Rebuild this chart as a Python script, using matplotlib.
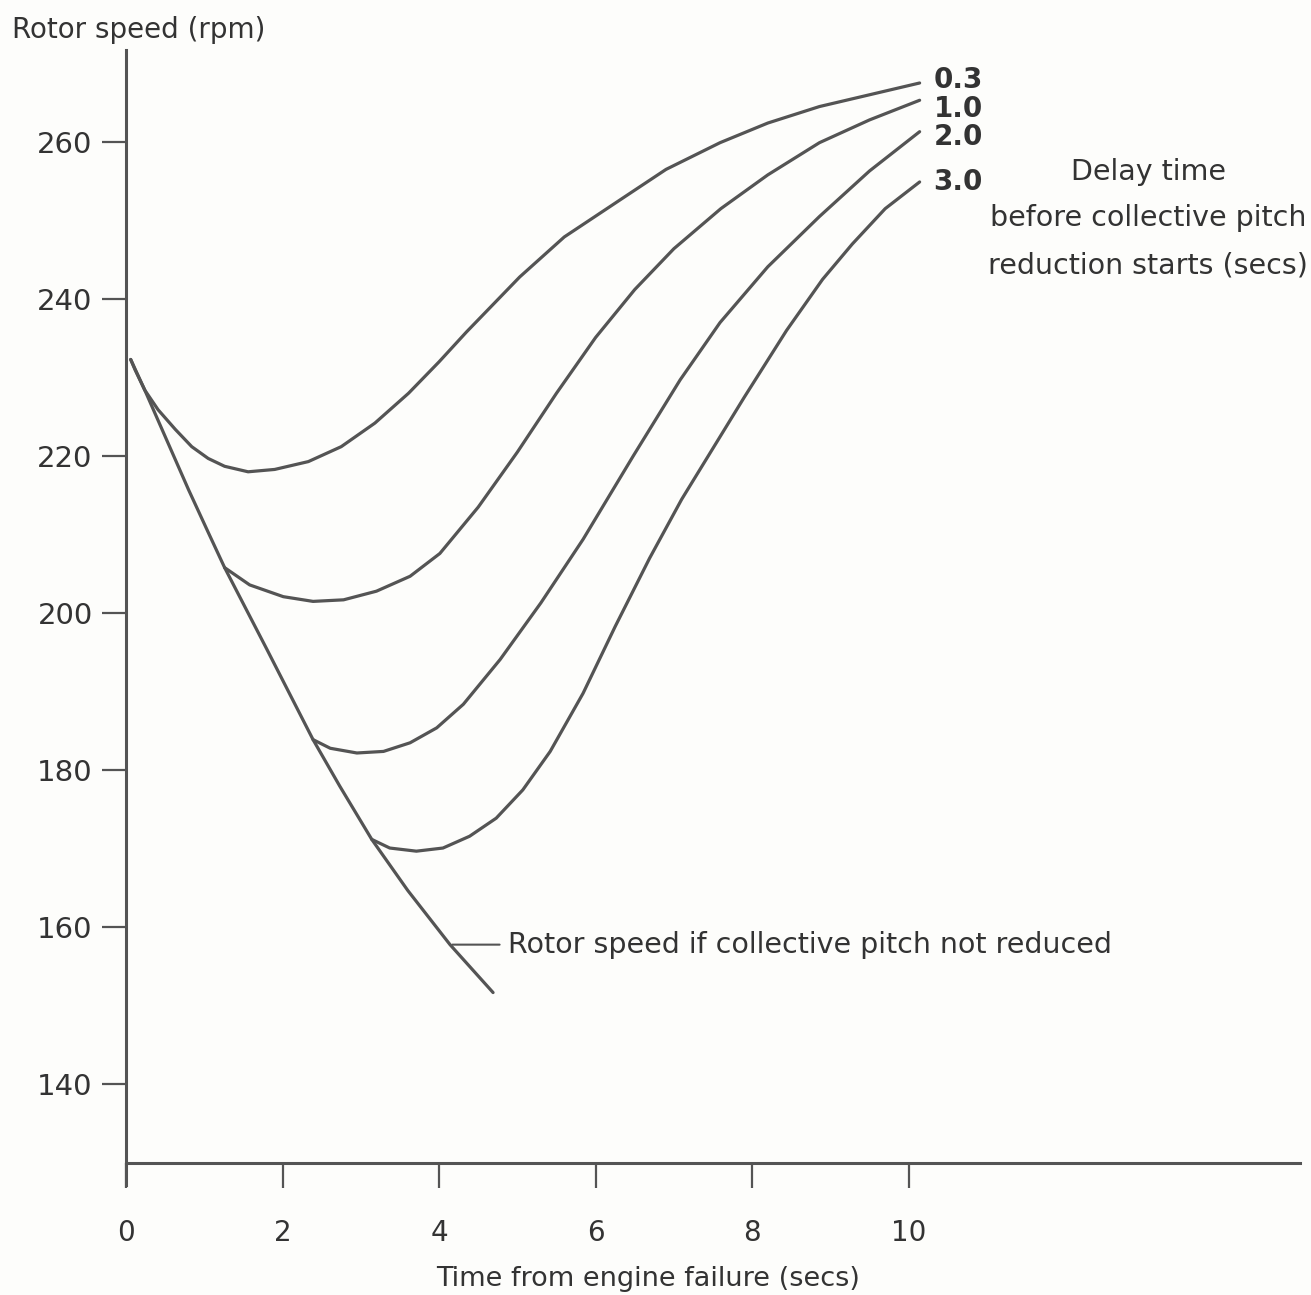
"""
Rotor speed decay after engine failure for different delay times
before collective pitch reduction starts.
"""

import matplotlib
matplotlib.use('Agg')
import matplotlib.pyplot as plt

# curve data (time in secs, rotor speed in rpm)
base_t = [0.06, 0.24, 0.5, 0.8, 1.05, 1.26, 1.8, 2.39, 2.73, 3.14, 3.6, 4.14, 4.69]
base_rpm = [232.3, 228.4, 222.5, 215.7, 210.3, 205.8, 195.4, 183.9, 178.0, 171.2, 164.7, 157.8, 151.7]

d03_t = [0.06, 0.115, 0.24, 0.41, 0.63, 0.84, 1.05, 1.26, 1.56, 1.9, 2.33, 2.75, 3.18,
         3.61, 4.0, 4.35, 5.03, 5.6, 6.31, 6.9, 7.59, 8.2, 8.86, 9.5, 10.14]
d03_rpm = [232.3, 231.0, 228.4, 225.9, 223.4, 221.2, 219.7, 218.7, 218.0, 218.3, 219.3, 221.2, 224.2,
           228.0, 232.0, 235.8, 242.8, 247.9, 252.6, 256.5, 259.9, 262.4, 264.5, 266.0, 267.5]

d10_t = [1.26, 1.58, 2.01, 2.39, 2.78, 3.2, 3.63, 4.01, 4.5, 5.0, 5.5, 6.0,
         6.5, 7.0, 7.6, 8.2, 8.86, 9.5, 10.14]
d10_rpm = [205.8, 203.6, 202.1, 201.5, 201.7, 202.8, 204.7, 207.6, 213.5, 220.5, 228.0, 235.1,
           241.2, 246.4, 251.5, 255.8, 259.9, 262.8, 265.3]

d20_t = [2.39, 2.61, 2.95, 3.29, 3.63, 3.97, 4.31, 4.78, 5.3, 5.84, 6.48, 7.08,
         7.59, 8.2, 8.86, 9.5, 10.14]
d20_rpm = [183.9, 182.8, 182.2, 182.4, 183.5, 185.4, 188.4, 194.1, 201.3, 209.4, 220.0, 229.7,
           237.0, 244.1, 250.5, 256.3, 261.3]

d30_t = [3.14, 3.37, 3.71, 4.05, 4.39, 4.73, 5.07, 5.42, 5.84, 6.25, 6.69, 7.1,
         7.5, 7.9, 8.44, 8.9, 9.28, 9.7, 10.14]
d30_rpm = [171.2, 170.1, 169.7, 170.1, 171.6, 173.9, 177.5, 182.4, 189.8, 198.3, 207.0, 214.5,
           221.0, 227.5, 236.0, 242.5, 247.0, 251.5, 254.9]

delay_labels = ['0.3', '1.0', '2.0', '3.0']
x_ticks = [0, 2, 4, 6, 8, 10]
y_ticks = [140, 160, 180, 200, 220, 240, 260]

LINE = '#545454'
TEXT = '#333333'

plt.rcParams['font.family'] = ['DejaVu Sans']

W, H = 1311, 1295
fig = plt.figure(figsize=(W / 100, H / 100), dpi=100, facecolor='#fdfdfb')
ax = fig.add_axes([126 / W, 1 - 1163 / H, 1174 / W, (1163 - 50) / H])
ax.set_facecolor('#fdfdfb')
ax.set_xlim(0, 15)
ax.set_ylim(130, 271.7)

for side in ['top', 'right']:
    ax.spines[side].set_visible(False)
for side in ['left', 'bottom']:
    ax.spines[side].set_color(LINE)
    ax.spines[side].set_linewidth(2.2)
ax.spines['left'].set_bounds(127.2, 271.7)

ax.set_xticks(x_ticks)
ax.set_yticks(y_ticks)
ax.tick_params(axis='x', direction='out', length=18, width=1.6, color=LINE,
               pad=22, labelsize=20, labelcolor=TEXT)
ax.tick_params(axis='y', direction='out', length=17, width=1.6, color=LINE,
               pad=7, labelsize=21, labelcolor=TEXT)

ax.plot(base_t, base_rpm, color=LINE, lw=2.3, solid_capstyle='round', solid_joinstyle='round')

curves = [(d03_t, d03_rpm), (d10_t, d10_rpm), (d20_t, d20_rpm), (d30_t, d30_rpm)]
label_dy = [2, -6, -4, 0]  # small vertical nudges so the end labels stack like the original
for (t, rpm), lab, dy in zip(curves, delay_labels, label_dy):
    ax.plot(t, rpm, color=LINE, lw=2.3, solid_capstyle='round', solid_joinstyle='round')
    ax.annotate(lab, xy=(t[-1], rpm[-1]), xytext=(10, dy), textcoords='offset points',
                ha='left', va='center', fontsize=20, fontweight='bold', color=TEXT)

ax.text(13.06, 258.0, 'Delay time\nbefore collective pitch\nreduction starts (secs)',
        ha='center', va='top', fontsize=20.5, color=TEXT, linespacing=1.85)

ax.annotate('Rotor speed if collective pitch not reduced',
            xy=(base_t[-2] + 0.03, base_rpm[-2]), xytext=(4.88, base_rpm[-2]),
            ha='left', va='center', fontsize=20.5, color=TEXT,
            arrowprops=dict(arrowstyle='-', color=LINE, lw=1.5, shrinkA=4, shrinkB=0))

ax.set_xlabel('Time from engine failure (secs)', fontsize=19.5, color=TEXT,
              x=6.67 / 15, labelpad=14)
fig.text(12 / W, 1 - 30 / H, 'Rotor speed (rpm)', ha='left', va='center',
         fontsize=20, color=TEXT)

fig.savefig('out.png', dpi=100, facecolor=fig.get_facecolor())
